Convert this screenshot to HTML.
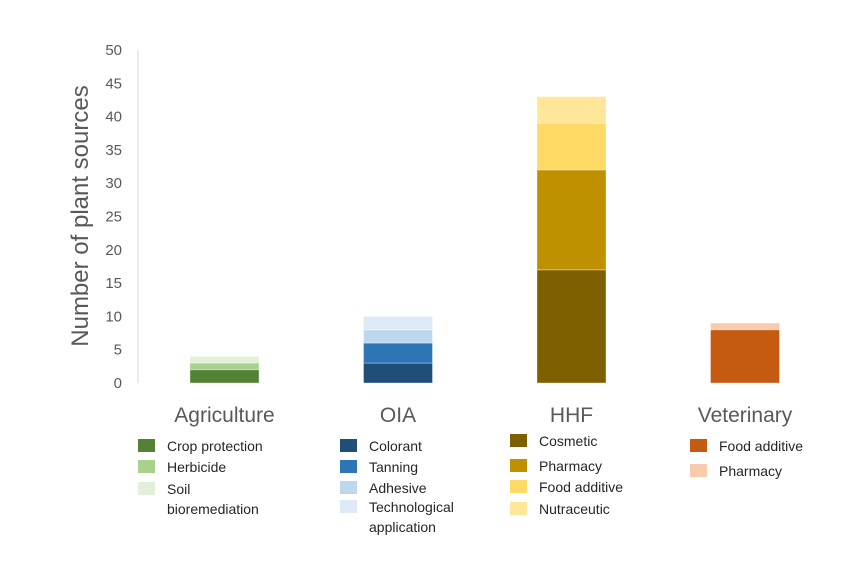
<!DOCTYPE html>
<html><head><meta charset="utf-8"><style>
body{margin:0;background:#fff;}
svg text{font-family:"Liberation Sans",sans-serif;fill:#595959;}
</style></head><body>
<svg id="c" width="850" height="564" viewBox="0 0 850 564">
<line x1="138" y1="50" x2="138" y2="383" stroke="#d9d9d9" stroke-width="1"/>
<text x="88" y="216" font-size="24" text-anchor="middle" transform="rotate(-90 88 216)">Number of plant sources</text>
</svg>
<script>
const categories = ["Agriculture","OIA","HHF","Veterinary"];
const seriesNames = [
 ["Crop protection","Herbicide","Soil bioremediation"],
 ["Colorant","Tanning","Adhesive","Technological application"],
 ["Cosmetic","Pharmacy","Food additive","Nutraceutic"],
 ["Food additive","Pharmacy"]];
const agricultureValues = [2,1,1];
const oiaValues = [3,3,2,2];
const hhfValues = [17,15,7,4];
const veterinaryValues = [8,1];
const yTicks = [0,5,10,15,20,25,30,35,40,45,50];
const allValues = [agricultureValues,oiaValues,hhfValues,veterinaryValues];
const colors = [["#548235","#a9d18e","#e2f0d9"],["#1f4e79","#2e75b6","#bdd7ee","#deebf7"],["#7f6000","#bf9000","#ffd966","#ffe699"],["#c55a11","#f8cbad"]];
const NS="http://www.w3.org/2000/svg";
const svg=document.getElementById('c');
const y0=383,y1=50,yMax=50;
const yScale=v=>y0-(v/yMax)*(y0-y1);
const xCenter=i=>224.5+i*173.5;
const bw=69;
function mk(t,a,txt){const e=document.createElementNS(NS,t);for(const k in a)e.setAttribute(k,a[k]);if(txt!==undefined)e.textContent=txt;svg.appendChild(e);return e;}
yTicks.forEach(t=>{
 const e=mk('text',{x:122,y:yScale(t)+5,'font-size':15,'text-anchor':'end'},t);
 
 
});
allValues.forEach((vals,i)=>{
 let acc=0;
 vals.forEach((v,j)=>{
  const top=yScale(acc+v),bot=yScale(acc);
  const r=mk('rect',{x:xCenter(i)-bw/2,y:top,width:bw,height:bot-top,fill:colors[i][j],stroke:'#ffffff','stroke-opacity':0.35,'stroke-width':1});
  
  
  acc+=v;
 });
 const c=mk('text',{x:xCenter(i),y:422,'font-size':21,'text-anchor':'middle'},categories[i]);
 
 
});
// legends
const legX=[138,340,510,690];
const legYs=[[446,467,489],[446,467,488,507],[441,466,487,509],[446,471]];
seriesNames.forEach((names,i)=>{
 names.forEach((n,j)=>{
  const y=legYs[i][j];
  const r=mk('rect',{x:legX[i],y:y-7,width:17,height:13,fill:colors[i][j]});
  
  
  const parts = n==="Soil bioremediation"?["Soil","bioremediation"]:(n==="Technological application"?["Technological","application"]:[n]);
  parts.forEach((p,k)=>{
   const t=mk('text',{x:legX[i]+29,y:y+5+k*20,'font-size':14,fill:'#262626'},p);
   t.style.fill='#262626';
   
   
  });
 });
});
</script>
</body></html>
